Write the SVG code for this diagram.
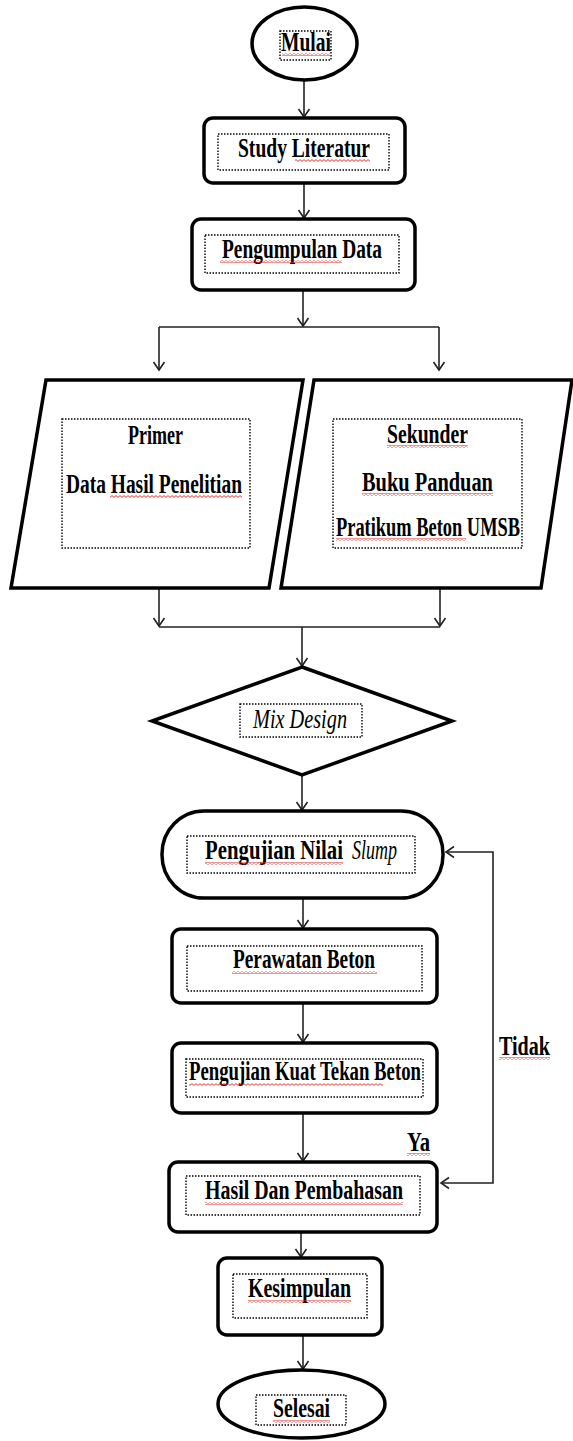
<svg xmlns="http://www.w3.org/2000/svg" width="573" height="1441" viewBox="0 0 573 1441">
<style>
.node{fill:#fff;stroke:#000;stroke-width:3.5;stroke-linejoin:miter}
.inner{fill:none;stroke:#000;stroke-width:1.4;stroke-dasharray:1.5 1.5}
.t{font-family:"Liberation Serif","Times New Roman",serif;font-weight:bold;font-size:27px;fill:#000}
.ti{font-family:"Liberation Serif","Times New Roman",serif;font-style:italic;font-size:27px;fill:#000}
.c{fill:none;stroke:#222;stroke-width:1.6}
.sq{fill:url(#zig)}
</style>
<defs>
<marker id="ah" markerWidth="14" markerHeight="14" refX="10" refY="7" orient="auto-start-reverse" markerUnits="userSpaceOnUse">
<path d="M2 1.5 L10 7 L2 12.5" fill="none" stroke="#222" stroke-width="1.6"/>
</marker>
<pattern id="zig" width="4" height="3" patternUnits="userSpaceOnUse">
<path d="M0 0.6 L2 2.4 L4 0.6" fill="none" stroke="#e02020" stroke-width="0.9"/>
</pattern>
</defs>

<g id="connectors">
<line class="c" x1="304" y1="80" x2="304" y2="117" marker-end="url(#ah)"/>
<line class="c" x1="304" y1="183" x2="304" y2="218" marker-end="url(#ah)"/>
<line class="c" x1="303" y1="290" x2="303" y2="326" marker-end="url(#ah)"/>
<line class="c" x1="159" y1="327" x2="439" y2="327"/>
<line class="c" x1="159" y1="327" x2="159" y2="370" marker-end="url(#ah)"/>
<line class="c" x1="439" y1="327" x2="439" y2="370" marker-end="url(#ah)"/>
<line class="c" x1="159" y1="588" x2="159" y2="626" marker-end="url(#ah)"/>
<line class="c" x1="440" y1="588" x2="440" y2="626" marker-end="url(#ah)"/>
<line class="c" x1="159" y1="627" x2="440" y2="627"/>
<line class="c" x1="302" y1="627" x2="302" y2="666" marker-end="url(#ah)"/>
<line class="c" x1="302" y1="775" x2="302" y2="810" marker-end="url(#ah)"/>
<line class="c" x1="303" y1="898" x2="303" y2="928" marker-end="url(#ah)"/>
<line class="c" x1="303" y1="1003" x2="303" y2="1042" marker-end="url(#ah)"/>
<line class="c" x1="303" y1="1113" x2="303" y2="1161" marker-end="url(#ah)"/>
<line class="c" x1="301" y1="1225" x2="301" y2="1257" marker-end="url(#ah)"/>
<line class="c" x1="303" y1="1335" x2="303" y2="1369" marker-end="url(#ah)"/>
<path class="c" d="M441 1183 H493 V852 H446" marker-start="url(#ah)" marker-end="url(#ah)"/>
</g>

<g id="mulai">
<ellipse class="node" cx="304.5" cy="43.5" rx="52.5" ry="36.5" stroke-width="3"/>
<rect class="inner" x="280" y="31" width="51" height="29"/>
<text class="t" transform="translate(281,51) scale(0.72,1)" textLength="69.4" lengthAdjust="spacingAndGlyphs">Mulai</text>
<rect class="sq" x="282" y="53" width="48" height="3"/>
</g>

<g id="study">
<rect class="node" x="204" y="118" width="201" height="65" rx="9"/>
<rect class="inner" x="218" y="134" width="171" height="36"/>
<text class="t" transform="translate(238,157) scale(0.72,1)" textLength="183.3" lengthAdjust="spacingAndGlyphs">Study Literatur</text>
<rect class="sq" x="295" y="159" width="75" height="3"/>
</g>

<g id="pengumpulan">
<rect class="node" x="192" y="219" width="223" height="71" rx="9"/>
<rect class="inner" x="205" y="235" width="194" height="38"/>
<text class="t" transform="translate(222,258) scale(0.72,1)" textLength="222.2" lengthAdjust="spacingAndGlyphs">Pengumpulan Data</text>
<rect class="sq" x="220" y="260" width="122" height="3"/>
</g>

<g id="primer">
<polygon class="node" points="46,380 303,380 269,588 11,588" stroke-width="4"/>
<rect class="inner" x="62" y="419" width="188" height="129"/>
<text class="t" transform="translate(128,444) scale(0.72,1)" textLength="76.4" lengthAdjust="spacingAndGlyphs">Primer</text>
<text class="t" transform="translate(66,493) scale(0.72,1)" textLength="244.4" lengthAdjust="spacingAndGlyphs">Data Hasil Penelitian</text>
<rect class="sq" x="110" y="495" width="132" height="3"/>
</g>

<g id="sekunder">
<polygon class="node" points="314,380 572,380 541,588 281,588" stroke-width="4"/>
<rect class="inner" x="333" y="419" width="189" height="129"/>
<text class="t" transform="translate(387,443) scale(0.72,1)" textLength="112.5" lengthAdjust="spacingAndGlyphs">Sekunder</text>
<rect class="sq" x="387" y="445" width="81" height="3"/>
<text class="t" transform="translate(362,491) scale(0.72,1)" textLength="181.9" lengthAdjust="spacingAndGlyphs">Buku Panduan</text>
<rect class="sq" x="362" y="493" width="131" height="3"/>
<text class="t" transform="translate(336,536) scale(0.72,1)" textLength="255.6" lengthAdjust="spacingAndGlyphs">Pratikum Beton UMSB</text>
<rect class="sq" x="336" y="538" width="130" height="3"/>
</g>

<g id="mixdesign">
<polygon class="node" points="302,667 452,721 302,775 152,721"/>
<rect class="inner" x="240" y="704" width="122" height="33"/>
<text class="ti" transform="translate(253,728) scale(0.72,1)" textLength="130.6" lengthAdjust="spacingAndGlyphs">Mix Design</text>
</g>

<g id="slump">
<rect class="node" x="162" y="811" width="281" height="87" rx="42" ry="43" stroke-width="3"/>
<rect class="inner" x="187" y="836" width="228" height="37"/>
<text class="t" transform="translate(205,859) scale(0.72,1)" textLength="191.7" lengthAdjust="spacingAndGlyphs">Pengujian Nilai</text>
<text class="ti" transform="translate(352,859) scale(0.72,1)" textLength="62.5" lengthAdjust="spacingAndGlyphs">Slump</text>
<rect class="sq" x="205" y="862" width="138" height="3"/>
</g>

<g id="perawatan">
<rect class="node" x="172" y="929" width="265" height="74" rx="9"/>
<rect class="inner" x="187" y="946" width="235" height="45"/>
<text class="t" transform="translate(233,968) scale(0.72,1)" textLength="197.2" lengthAdjust="spacingAndGlyphs">Perawatan Beton</text>
<rect class="sq" x="232" y="971" width="145" height="3"/>
</g>

<g id="kuattekan">
<rect class="node" x="172" y="1043" width="265" height="70" rx="9"/>
<rect class="inner" x="186" y="1059" width="237" height="38"/>
<text class="t" transform="translate(189,1080) scale(0.72,1)" textLength="322.2" lengthAdjust="spacingAndGlyphs">Pengujian Kuat Tekan Beton</text>
<rect class="sq" x="189" y="1083" width="194" height="3"/>
</g>

<g id="hasil">
<rect class="node" x="169" y="1162" width="268" height="70" rx="9"/>
<rect class="inner" x="186" y="1176" width="234" height="39"/>
<text class="t" transform="translate(205,1199) scale(0.72,1)" textLength="275" lengthAdjust="spacingAndGlyphs">Hasil Dan Pembahasan</text>
<rect class="sq" x="205" y="1202" width="198" height="3"/>
</g>

<g id="kesimpulan">
<rect class="node" x="218" y="1258" width="164" height="77" rx="9"/>
<rect class="inner" x="233" y="1274" width="134" height="44"/>
<text class="t" transform="translate(248,1297) scale(0.72,1)" textLength="143" lengthAdjust="spacingAndGlyphs">Kesimpulan</text>
<rect class="sq" x="248" y="1300" width="103" height="3"/>
</g>

<g id="selesai">
<ellipse class="node" cx="301.5" cy="1404" rx="83.5" ry="34" stroke-width="3"/>
<rect class="inner" x="256" y="1395" width="90" height="30"/>
<text class="t" transform="translate(273,1417) scale(0.72,1)" textLength="79.2" lengthAdjust="spacingAndGlyphs">Selesai</text>
<rect class="sq" x="273" y="1420" width="57" height="3"/>
</g>

<g id="labels">
<text class="t" transform="translate(499,1055) scale(0.72,1)" textLength="70.8" lengthAdjust="spacingAndGlyphs">Tidak</text>
<rect class="sq" x="499" y="1057" width="51" height="3"/>
<text class="t" transform="translate(407,1151) scale(0.72,1)" textLength="31.9" lengthAdjust="spacingAndGlyphs">Ya</text>
<rect class="sq" x="407" y="1153" width="23" height="3"/>
</g>
</svg>
